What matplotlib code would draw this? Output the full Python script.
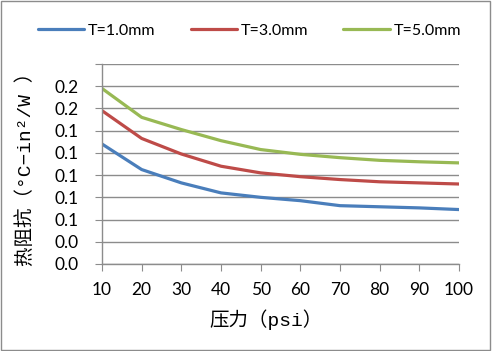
import matplotlib as mpl
mpl.use("Agg")
import matplotlib.pyplot as plt
from matplotlib.ticker import MultipleLocator, FixedFormatter
from matplotlib.patches import Rectangle

plt.rcParams['font.family'] = ['Lato', 'Noto Sans CJK SC', 'DejaVu Sans']

# data
pressure = [10, 20, 30, 40, 50, 60, 70, 80, 90, 100]
t1 = [0.108, 0.085, 0.073, 0.064, 0.060, 0.057, 0.0525, 0.0515, 0.0505, 0.049]
t3 = [0.138, 0.113, 0.099, 0.088, 0.082, 0.0786, 0.076, 0.074, 0.073, 0.072]
t5 = [0.158, 0.132, 0.121, 0.111, 0.103, 0.0987, 0.0957, 0.0933, 0.092, 0.091]
labels = ["T=1.0mm", "T=3.0mm", "T=5.0mm"]
ytick_labels = ["0.0", "0.0", "0.0", "0.1", "0.1", "0.1", "0.1", "0.1", "0.2", "0.2"]
colors = ["#4a7ebb", "#be4b48", "#98b954"]

lab_font = ["Liberation Mono", "Noto Sans CJK SC", "DejaVu Sans"]

fig = plt.figure(figsize=(4.92, 3.51), dpi=100)
ax = fig.add_axes([102 / 492, 1 - 264 / 351, 357 / 492, 200 / 351])

for y, lab, c in zip([t1, t3, t5], labels, colors):
    ax.plot(pressure, y, color=c, lw=2.3, label=lab, solid_capstyle="round")

ax.set_xlim(10, 100)
ax.set_ylim(0, 0.18)
ax.xaxis.set_major_locator(MultipleLocator(10))
ax.yaxis.set_major_locator(MultipleLocator(0.02))
ax.yaxis.set_major_formatter(FixedFormatter(ytick_labels))
ax.grid(True, axis="y", color="#8c8c8c", lw=1)
ax.set_axisbelow(True)

for s in ["top", "right"]:
    ax.spines[s].set_visible(False)
for s in ["left", "bottom"]:
    ax.spines[s].set_color("#8c8c8c")
    ax.spines[s].set_linewidth(1)
ax.tick_params(axis="both", direction="out", length=5, color="#8c8c8c", labelsize=12.5)
ax.tick_params(axis="x", pad=8)
ax.tick_params(axis="y", pad=12)

ax.set_xlabel("压力（psi）", fontsize=14, family=lab_font, labelpad=8)
ax.xaxis.label.set_x(0.46)
ax.set_ylabel("热阻抗（°C−in²/W ）", fontsize=14, family=lab_font, labelpad=14)

fig.legend(loc="center", bbox_to_anchor=(0.507, 1 - 31 / 351), ncol=3, frameon=False,
           fontsize=11.5, handlelength=2.9, columnspacing=2.2, handletextpad=0.25)

fig.patches.append(Rectangle((0.002, 0.004), 0.994, 0.992, transform=fig.transFigure,
                             fill=False, edgecolor="#8c8c8c", lw=1))

fig.savefig("out.png", dpi=100)
